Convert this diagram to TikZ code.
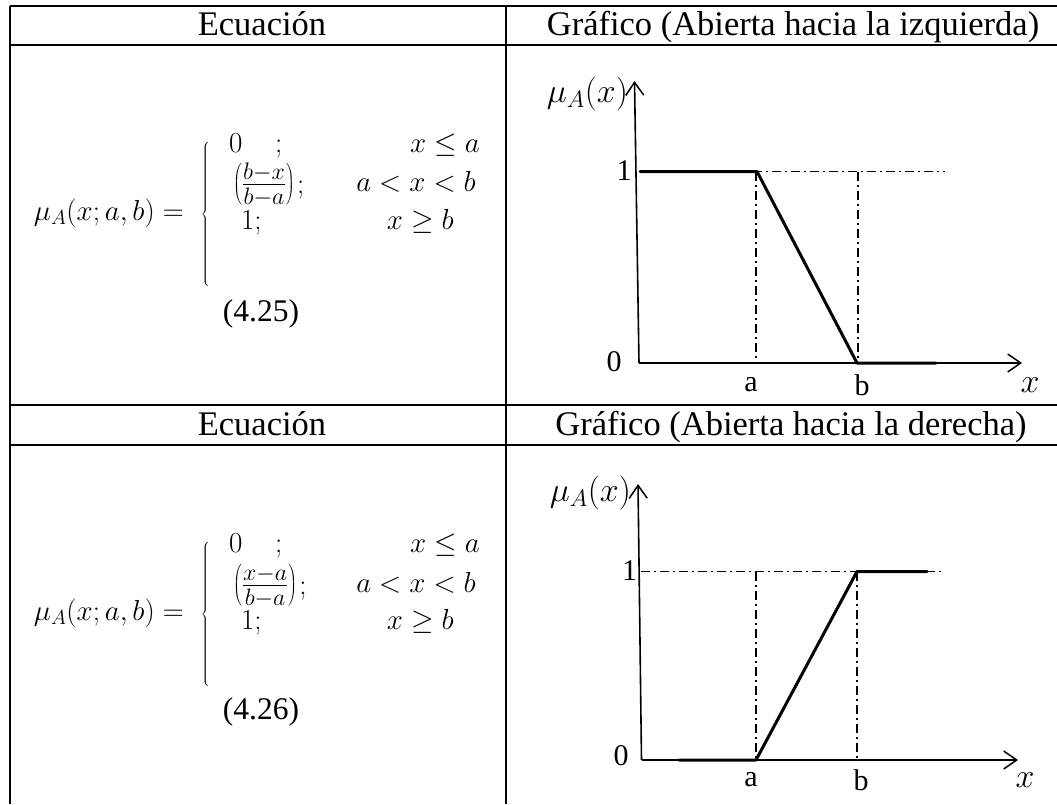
\RequirePackage{fix-cm}
\documentclass[tikz,border=0pt]{standalone}
\usepackage{fontspec}
\setmainfont{Liberation Serif}
\usetikzlibrary{arrows.meta}
\begin{document}
\begin{tikzpicture}[x=1pt,y=-1pt,
  tbl/.style={line width=1.7pt},
  hdr/.style={font=\fontsize{34.5}{40}\selectfont, inner sep=0, anchor=base},
  eq/.style={font=\fontsize{29}{33}\selectfont, inner sep=0},
  frac/.style={font=\fontsize{34}{38}\selectfont, inner sep=0},
  num/.style={font=\fontsize{31.5}{36}\selectfont, inner sep=0},
  axisline/.style={line width=1.6pt, -{Straight Barb[length=13pt,width=18pt,line width=1.5pt]}},
  mf/.style={line width=3pt, line cap=round, line join=round},
  guide/.style={line width=1.2pt, dash pattern=on 9pt off 4pt on 2pt off 4pt},
  lbl/.style={font=\fontsize{30}{34}\selectfont, inner sep=0},
  mlbl/.style={font=\fontsize{34}{38}\selectfont, inner sep=0},
]
\useasboundingbox (0,0) rectangle (1057,804);
% table rules
\draw[tbl] (10,6) -- (1057,6);
\draw[tbl] (10,45) -- (1057,45);
\draw[tbl] (10,405) -- (1057,405);
\draw[tbl] (10,445) -- (1057,445);
\draw[tbl] (10,6) -- (10,804);
\draw[tbl] (506,6) -- (506,804);
% headers
\node[hdr] (h1) at (262,35) {Ecuación};
\node[hdr] (h2) at (793,35) {Gráfico (Abierta hacia la izquierda)};
\node[hdr] (h3) at (262,435) {Ecuación};
\node[hdr] (h4) at (791,435) {Gráfico (Abierta hacia la derecha)};
% equation 1
\node[eq, anchor=base east] (l1) at (184,220) {$\mu_A(x;a,b)=$};
\node[eq] (br1) at (206,215) {$\left\{\vrule height 78pt depth 66pt width 0pt\right.$};
\node[eq, anchor=base west] (r1a) at (229,152) {$0$};
\node[eq, anchor=base west] (r1b) at (275,152) {$;$};
\node[eq, anchor=base east] (r1c) at (480,152) {$x\leq a$};
\node[frac, anchor=base west] (r2a) at (233,193) {$\left(\frac{b-x}{b-a}\right)$};
\node[eq, anchor=base west] (r2b) at ([xshift=2pt]r2a.base east) {$;$};
\node[eq, anchor=base east] (r2c) at (476,191) {$a<x<b$};
\node[eq, anchor=base west] (r3a) at (241,229) {$1;$};
\node[eq, anchor=base east] (r3c) at (454,229) {$x\geq b$};
\node[num] (n1) at (261,314) {(4.25)};
% equation 2
\node[eq, anchor=base east] (m1) at (184,620) {$\mu_A(x;a,b)=$};
\node[eq] (br2) at (206,615) {$\left\{\vrule height 78pt depth 66pt width 0pt\right.$};
\node[eq, anchor=base west] (s1a) at (229,552) {$0$};
\node[eq, anchor=base west] (s1b) at (275,552) {$;$};
\node[eq, anchor=base east] (s1c) at (480,552) {$x\leq a$};
\node[frac, anchor=base west] (s2a) at (233,594) {$\left(\frac{x-a}{b-a}\right)$};
\node[eq, anchor=base west] (s2b) at ([xshift=2pt]s2a.base east) {$;$};
\node[eq, anchor=base east] (s2c) at (476,592) {$a<x<b$};
\node[eq, anchor=base west] (s3a) at (241,629) {$1;$};
\node[eq, anchor=base east] (s3c) at (454,629) {$x\geq b$};
\node[num] (n2) at (261,712) {(4.26)};
% graph 1
\coordinate (o1) at (639,363);
\coordinate (yt1) at (634.5,81);
\coordinate (xt1) at (1022,363);
\coordinate (g1e) at (945,171.5);
\coordinate (g1y) at (639,171.5);
\coordinate (a1t) at (756,171.5);
\coordinate (a1b) at (756,363);
\coordinate (b1t) at (858,171.5);
\coordinate (b1b) at (858,363);
\coordinate (p1s) at (640,171.5);
\coordinate (p1a) at (757,171.5);
\coordinate (p1b) at (857,363);
\coordinate (p1e) at (936,363);
\draw[guide] (g1y) -- (g1e);
\draw[guide] (a1t) -- (a1b);
\draw[guide] (b1t) -- (b1b);
\draw[axisline] (o1) -- (yt1);
\draw[axisline] (o1) -- (xt1);
\draw[mf] (p1s) -- (p1a) -- (p1b) -- (p1e);
\node[lbl] (one1) at (624,171) {1};
\node[lbl] (zero1) at (614,362) {0};
\node[lbl] (la1) at (751,385) {a};
\node[lbl] (lb1) at (862,385) {b};
\node[mlbl] (lx1) at (1030,385) {$x$};
\node[mlbl, anchor=east] (mu1) at (628,94) {$\mu_A(x)$};
% graph 2
\coordinate (o2) at (641.5,760);
\coordinate (yt2) at (638,484);
\coordinate (xt2) at (1018,760);
\coordinate (g2y) at (641,571.5);
\coordinate (g2e) at (941,571.5);
\coordinate (a2t) at (756,571.5);
\coordinate (a2b) at (756,760);
\coordinate (b2t) at (857,571.5);
\coordinate (b2b) at (857,760);
\coordinate (p2s) at (679,760);
\coordinate (p2a) at (756,760);
\coordinate (p2b) at (857,571.5);
\coordinate (p2e) at (927,571.5);
\draw[guide] (g2y) -- (g2e);
\draw[guide] (a2t) -- (a2b);
\draw[guide] (b2t) -- (b2b);
\draw[axisline] (o2) -- (yt2);
\draw[axisline] (o2) -- (xt2);
\draw[mf] (p2s) -- (p2a) -- (p2b) -- (p2e);
\node[lbl] (one2) at (629.6,571) {1};
\node[lbl] (zero2) at (621,756) {0};
\node[lbl] (la2) at (751,780) {a};
\node[lbl] (lb2) at (861,780) {b};
\node[mlbl] (lx2) at (1025,780) {$x$};
\node[mlbl, anchor=east] (mu2) at (631,493) {$\mu_A(x)$};
\end{tikzpicture}
\end{document}
